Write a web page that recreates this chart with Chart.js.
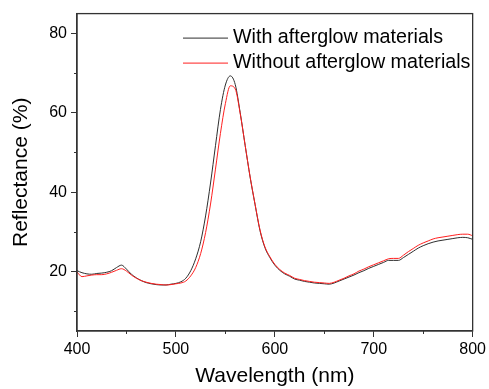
<!DOCTYPE html>
<html><head><meta charset="utf-8">
<script src="https://cdn.jsdelivr.net/npm/chart.js@4.4.0/dist/chart.umd.min.js"></script>
<style>html,body{margin:0;padding:0;background:#fff;overflow:hidden}#wrap{width:489px;height:389px}</style>
</head><body><div id="wrap"><canvas id="c" width="489" height="389"></canvas></div>
<script>
const wavelengths = [400,405,410,415,420,425,430,435,440,445,450,455,460,465,470,475,480,485,490,495,
  500,505,510,515,520,525,530,535,540,545,550,555,560,565,570,575,580,585,590,595,
  600,605,610,615,620,625,630,635,640,645,650,655,660,665,670,675,680,685,690,695,
  700,705,710,715,720,725,730,735,740,745,750,755,760,765,770,775,780,785,790,795,800];
const withAfterglow = [20.2,19.7,19.4,19.3,19.5,19.6,19.8,20.2,21.0,21.6,20.6,19.3,18.4,17.7,17.2,16.9,16.7,16.6,16.6,16.8,
  17.0,17.4,18.3,20.2,23.2,27.5,34.0,42.3,51.7,60.8,67.0,69.3,67.1,60.0,51.8,43.8,36.9,30.3,26.0,23.5,
  21.6,20.3,19.4,18.8,18.1,17.8,17.5,17.3,17.1,17.0,16.9,16.8,17.1,17.6,18.1,18.6,19.1,19.7,20.2,20.8,
  21.3,21.8,22.3,22.8,22.8,22.8,23.5,24.3,25.1,25.9,26.5,27.0,27.4,27.7,27.9,28.1,28.3,28.5,28.6,28.5,28.1];
const withoutAfterglow = [19.9,18.7,18.9,19.1,19.2,19.2,19.4,19.8,20.3,20.7,20.1,19.1,18.3,17.7,17.3,17.0,16.8,16.7,16.6,16.7,
  16.9,17.1,17.6,18.9,21.0,24.5,29.8,37.0,45.8,54.8,62.3,66.8,66.0,59.8,51.8,43.9,37.0,30.5,26.2,23.7,
  21.8,20.5,19.6,19.0,18.3,18.0,17.7,17.5,17.3,17.2,17.1,17.0,17.3,17.8,18.3,18.9,19.4,20.1,20.6,21.2,
  21.7,22.2,22.7,23.2,23.3,23.3,24.1,25.0,25.8,26.6,27.2,27.7,28.2,28.5,28.7,28.9,29.1,29.3,29.4,29.4,29.0];
const seriesLabels = ['With afterglow materials','Without afterglow materials'];
const xTicks = [400,500,600,700,800];
const xMinorTicks = [450,550,650,750];
const yTicks = [20,40,60,80];
const yMinorTicks = [10,30,50,70];

const FONT = 'Arial, "Liberation Sans", sans-serif';
const toPts = ys => wavelengths.map((x,i)=>({x:x,y:ys[i]}));

const framePlugin = {
  id:'frame',
  afterDraw(chart){
    const {ctx, chartArea:a, scales:{x,y}} = chart;
    ctx.save();
    ctx.strokeStyle='#333'; ctx.lineWidth=1.3;
    ctx.strokeRect(a.left, a.top, a.right-a.left, a.bottom-a.top);
    ctx.lineWidth=1;
    ctx.beginPath();
    xMinorTicks.forEach(v=>{const p=Math.round(x.getPixelForValue(v))+0.5; ctx.moveTo(p,a.bottom); ctx.lineTo(p,a.bottom+3);});
    yMinorTicks.forEach(v=>{const p=Math.round(y.getPixelForValue(v))+0.5; ctx.moveTo(a.left-3,p); ctx.lineTo(a.left,p);});
    ctx.stroke();
    // legend inside plot
    ctx.font = '19.7px '+FONT;
    ctx.textBaseline='middle';
    chart.data.datasets.forEach((ds,i)=>{
      const yy = a.top + 24 + i*25;
      ctx.strokeStyle = ds.borderColor; ctx.lineWidth = 1;
      ctx.beginPath(); ctx.moveTo(183,yy+0.5); ctx.lineTo(228,yy+0.5); ctx.stroke();
      ctx.fillStyle='#000';
      ctx.fillText(ds.label, 233, yy);
    });
    ctx.restore();
  }
};

new Chart(document.getElementById('c'), {
  type:'line',
  data:{datasets:[
    {label:seriesLabels[0], data:toPts(withAfterglow), borderColor:'#2e2e2e', borderWidth:1, pointRadius:0, cubicInterpolationMode:'monotone', order:1},
    {label:seriesLabels[1], data:toPts(withoutAfterglow), borderColor:'#ff1f1f', borderWidth:1, pointRadius:0, cubicInterpolationMode:'monotone', order:0}
  ]},
  options:{
    responsive:false, animation:false, devicePixelRatio:1,
    layout:{padding:{top:11,right:16,left:0,bottom:0}},
    plugins:{legend:{display:false}, tooltip:{enabled:false}},
    scales:{
      x:{type:'linear', min:400, max:800,
        afterBuildTicks:s=>{s.ticks = xTicks.map(v=>({value:v}));},
        afterFit:s=>{s.height=58;},
        grid:{drawOnChartArea:false, drawTicks:true, tickLength:6, color:'#333', tickWidth:1},
        border:{display:true, color:'#333', width:1.3},
        ticks:{font:{family:FONT,size:16}, color:'#000', padding:3, maxRotation:0, autoSkip:false},
        title:{display:true, text:'Wavelength (nm)', font:{family:FONT,size:21}, color:'#000', padding:{top:0,bottom:0}}
      },
      y:{type:'linear', min:5, max:85,
        afterBuildTicks:s=>{s.ticks = yTicks.map(v=>({value:v}));},
        afterFit:s=>{s.width=77;},
        grid:{drawOnChartArea:false, drawTicks:true, tickLength:6, color:'#333', tickWidth:1},
        border:{display:true, color:'#333', width:1.3},
        ticks:{font:{family:FONT,size:16}, color:'#000', padding:4, autoSkip:false},
        title:{display:true, text:'Reflectance (%)', font:{family:FONT,size:21}, color:'#000', padding:{top:9,bottom:0}}
      }
    }
  },
  plugins:[framePlugin]
});
</script></body></html>
